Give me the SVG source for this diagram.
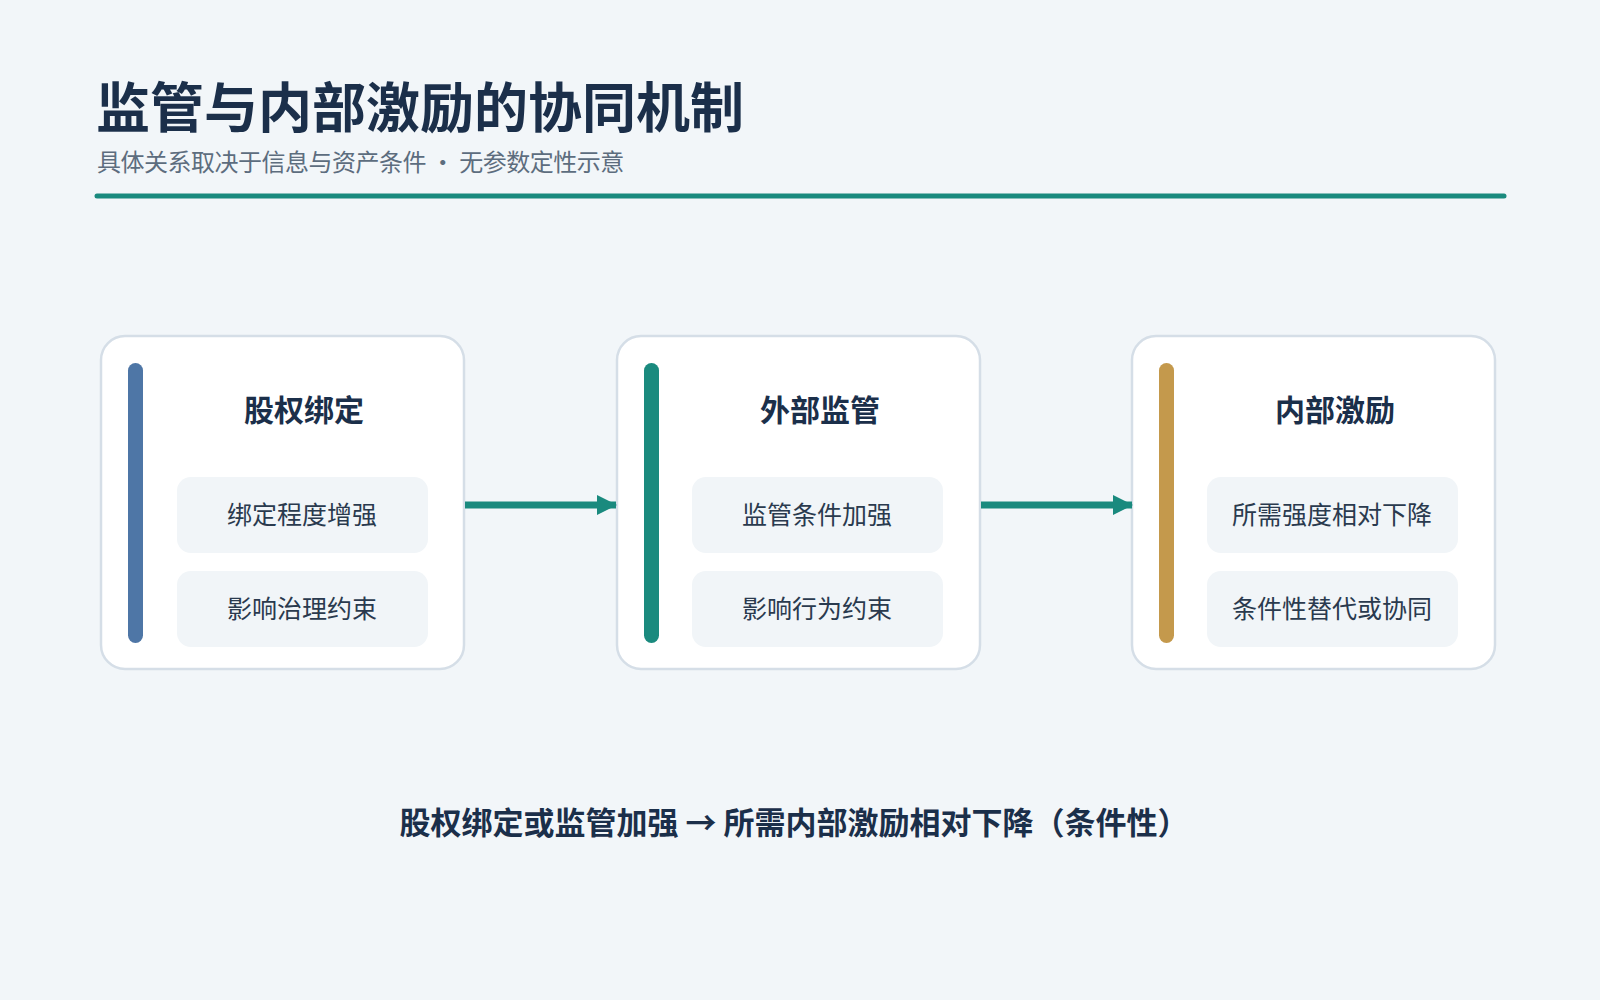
<svg xmlns="http://www.w3.org/2000/svg" width="1600" height="1000" viewBox="0 0 1600 1000">
<style>
text{font-family:"Noto Sans CJK SC","Noto Sans",sans-serif}
.card{fill:#fff;stroke:#d5dee7;stroke-width:2.5}
.box{fill:#f1f5f8}
.ct{font-size:30px;font-weight:700;fill:#1b2f4a;text-anchor:middle}
.it{font-size:25px;fill:#2a3a4e;text-anchor:middle}
.conn{stroke:#1a8a7e;stroke-width:7;fill:none}
</style>
<defs><marker id="ah" markerWidth="20" markerHeight="20" refX="19" refY="10" orient="auto" markerUnits="userSpaceOnUse"><path d="M0,0L20,10L0,20z" fill="#1a8a7e"/></marker></defs>
<rect width="1600" height="1000" fill="#f2f6f9"/>
<text x="96" y="128" font-size="54" font-weight="700" fill="#1b2f4a">监管与内部激励的协同机制</text>
<text x="97" y="171" font-size="24" fill="#5d6d7e" letter-spacing="-0.5">具体关系取决于信息与资产条件 · 无参数定性示意</text>
<line x1="97" y1="196" x2="1504" y2="196" stroke="#1a8a7e" stroke-width="5" stroke-linecap="round"/>
<g id="n1"><rect class="card" x="101" y="336" width="363" height="333" rx="24"/><rect x="128" y="363" width="15" height="280" rx="7.5" fill="#4e76a6"/><text class="ct" x="304" y="421">股权绑定</text><rect class="box" x="177" y="477" width="251" height="76" rx="14"/><text class="it" x="302" y="524">绑定程度增强</text><rect class="box" x="177" y="571" width="251" height="76" rx="14"/><text class="it" x="302" y="618">影响治理约束</text></g>
<g id="n2"><rect class="card" x="617" y="336" width="363" height="333" rx="24"/><rect x="644" y="363" width="15" height="280" rx="7.5" fill="#1a8a7e"/><text class="ct" x="820" y="421">外部监管</text><rect class="box" x="692" y="477" width="251" height="76" rx="14"/><text class="it" x="817" y="524">监管条件加强</text><rect class="box" x="692" y="571" width="251" height="76" rx="14"/><text class="it" x="817" y="618">影响行为约束</text></g>
<g id="n3"><rect class="card" x="1132" y="336" width="363" height="333" rx="24"/><rect x="1159" y="363" width="15" height="280" rx="7.5" fill="#c4994c"/><text class="ct" x="1335" y="421">内部激励</text><rect class="box" x="1207" y="477" width="251" height="76" rx="14"/><text class="it" x="1332" y="524">所需强度相对下降</text><rect class="box" x="1207" y="571" width="251" height="76" rx="14"/><text class="it" x="1332" y="618">条件性替代或协同</text></g>
<g id="connectors"><line class="conn" x1="465" y1="505" x2="616" y2="505" marker-end="url(#ah)"/><line class="conn" x1="981" y1="505" x2="1132" y2="505" marker-end="url(#ah)"/></g>
<text x="794" y="834" font-size="31" font-weight="700" fill="#1b2f4a" text-anchor="middle">股权绑定或监管加强 → 所需内部激励相对下降（条件性）</text>
</svg>
